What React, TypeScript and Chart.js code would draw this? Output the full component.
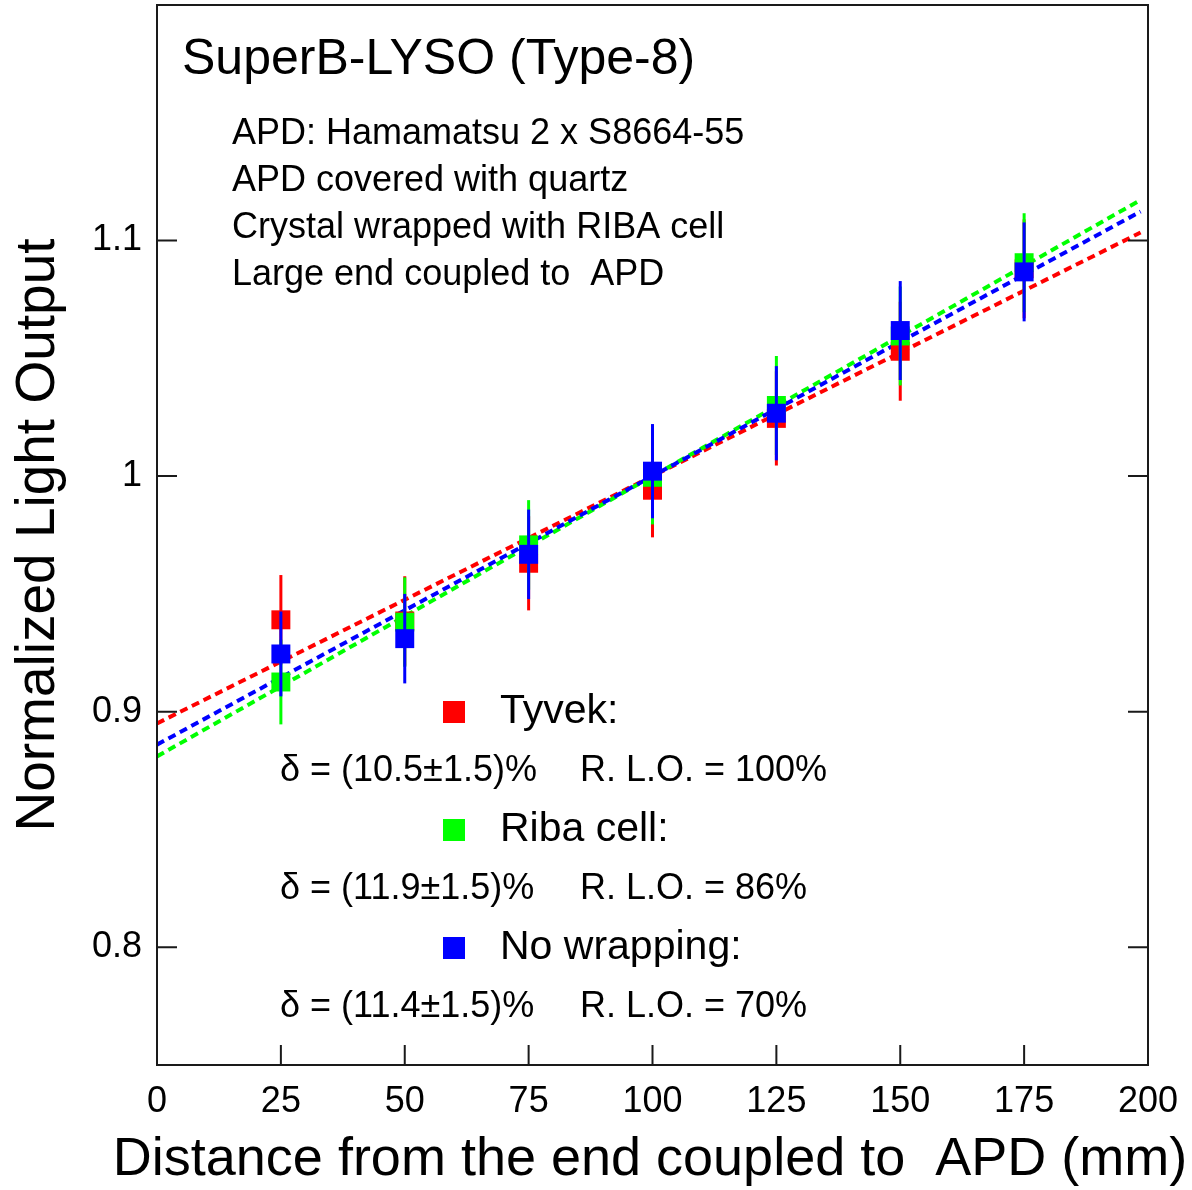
import React, { useEffect, useRef } from "react";
import { Chart, registerables } from "chart.js";

Chart.register(...registerables);

// ---- Data ----
const distances = [25, 50, 75, 100, 125, 150, 175];

const tyvekValues = [0.939, 0.9385, 0.963, 0.994, 1.0245, 1.053, 1.088];
const tyvekErrors = [0.019, 0.019, 0.020, 0.020, 0.020, 0.021, 0.021];

const ribaValues = [0.9126, 0.938, 0.9708, 0.9995, 1.030, 1.0595, 1.0906];
const ribaErrors = [0.018, 0.019, 0.019, 0.020, 0.021, 0.021, 0.021];

const noWrapValues = [0.9245, 0.931, 0.9668, 1.0021, 1.0267, 1.0618, 1.0867];
const noWrapErrors = [0.018, 0.019, 0.019, 0.020, 0.020, 0.021, 0.021];

// fitted lines (end points)
const fitX = [0, 198.5];
const tyvekFit = [0.895, 1.1034];
const ribaFit = [0.881, 1.1172];
const noWrapFit = [0.886, 1.1123];

const yTickValues = [0.8, 0.9, 1, 1.1];
const xTickValues = [0, 25, 50, 75, 100, 125, 150, 175, 200];

const seriesColors = ["#ff0000", "#00ff00", "#0000ff"];
const legendLabels = ["Tyvek:", "Riba cell:", "No wrapping:"];
const deltaTexts = ["δ = (10.5±1.5)%", "δ = (11.9±1.5)%", "δ = (11.4±1.5)%"];
const rloTexts = ["R. L.O. = 100%", "R. L.O. = 86%", "R. L.O. = 70%"];

const titleText = "SuperB-LYSO (Type-8)";
const noteLines = [
  "APD: Hamamatsu 2 x S8664-55",
  "APD covered with quartz",
  "Crystal wrapped with RIBA cell",
  "Large end coupled to  APD",
];
const xTitle = "Distance from the end coupled to  APD (mm)";
const yTitle = "Normalized Light Output";

const FONT = '"Liberation Sans", Arial, Helvetica, sans-serif';

function pts(xs: number[], ys: number[]) {
  return xs.map((x, i) => ({ x, y: ys[i] }));
}

const zeroPadding = () => ({ left: 0, top: 0, right: 0, bottom: 0 });

const overlayPlugin = {
  id: "overlay",
  afterDatasetDraw(chart: any, args: any) {
    const ds = chart.data.datasets[args.index];
    if (!ds.errors) return;
    const ctx = chart.ctx;
    const xs = chart.scales.x;
    const ys = chart.scales.y;
    ctx.save();
    ctx.strokeStyle = ds.backgroundColor;
    ctx.lineWidth = 3;
    ds.data.forEach((p: any, i: number) => {
      const px = xs.getPixelForValue(p.x);
      const y1 = ys.getPixelForValue(p.y - ds.errors[i]);
      const y2 = ys.getPixelForValue(p.y + ds.errors[i]);
      ctx.beginPath();
      ctx.moveTo(px, y1);
      ctx.lineTo(px, y2);
      ctx.stroke();
    });
    ctx.restore();
  },
  afterDraw(chart: any) {
    const ctx = chart.ctx;
    const { left, right, top, bottom } = chart.chartArea;
    const xs = chart.scales.x;
    const ys = chart.scales.y;
    ctx.save();
    // frame
    ctx.strokeStyle = "#1a1a1a";
    ctx.lineWidth = 2;
    ctx.strokeRect(left, top, right - left, bottom - top);
    // inward ticks
    const tl = 20;
    ctx.beginPath();
    xTickValues.forEach((v) => {
      const px = xs.getPixelForValue(v);
      ctx.moveTo(px, bottom);
      ctx.lineTo(px, bottom - tl);
    });
    yTickValues.forEach((v) => {
      const py = ys.getPixelForValue(v);
      ctx.moveTo(left, py);
      ctx.lineTo(left + tl, py);
      ctx.moveTo(right, py);
      ctx.lineTo(right - tl, py);
    });
    ctx.stroke();

    // texts
    ctx.fillStyle = "#000";
    ctx.textBaseline = "middle";
    ctx.textAlign = "left";
    ctx.font = `50px ${FONT}`;
    ctx.fillText(titleText, 182, 60);
    ctx.font = `36px ${FONT}`;
    noteLines.forEach((t, i) => ctx.fillText(t, 232, 134 + i * 47));

    legendLabels.forEach((lab, i) => {
      const cy = 712 + i * 118;
      ctx.fillStyle = seriesColors[i];
      ctx.fillRect(443, cy - 11, 22, 22);
      ctx.fillStyle = "#000";
      ctx.font = `41px ${FONT}`;
      ctx.fillText(lab, 500, cy);
      ctx.font = `36px ${FONT}`;
      ctx.fillText(deltaTexts[i], 280, cy + 59);
      ctx.fillText(rloTexts[i], 580, cy + 59);
    });

    // x axis title (wider than the plot area, so drawn here)
    ctx.textAlign = "center";
    ctx.font = `54px ${FONT}`;
    ctx.fillText(xTitle, 650, 1160);
    ctx.restore();
  },
};

export default function App() {
  const canvasRef = useRef<HTMLCanvasElement | null>(null);

  useEffect(() => {
    if (!canvasRef.current) return;
    const scatterDs = (label: string, values: number[], errors: number[], color: string, order: number) => ({
      type: "scatter" as const,
      label,
      data: pts(distances, values),
      errors,
      backgroundColor: color,
      borderColor: color,
      borderWidth: 0,
      pointStyle: "rect",
      pointRadius: 13.4,
      pointHoverRadius: 13.4,
      order,
    });
    const fitDs = (label: string, values: number[], color: string, order: number) => ({
      type: "line" as const,
      label,
      data: pts(fitX, values),
      borderColor: color,
      backgroundColor: color,
      borderWidth: 4,
      borderDash: [8, 5],
      pointRadius: 0,
      fill: false,
      tension: 0,
      order,
    });

    const chart = new Chart(canvasRef.current, {
      type: "scatter",
      data: {
        datasets: [
          scatterDs("Tyvek", tyvekValues, tyvekErrors, seriesColors[0], 3),
          scatterDs("Riba cell", ribaValues, ribaErrors, seriesColors[1], 2),
          scatterDs("No wrapping", noWrapValues, noWrapErrors, seriesColors[2], 1),
          fitDs("Tyvek fit", tyvekFit, seriesColors[0], 12),
          fitDs("Riba fit", ribaFit, seriesColors[1], 11),
          fitDs("No wrapping fit", noWrapFit, seriesColors[2], 10),
        ] as any,
      },
      options: {
        responsive: false,
        animation: false,
        layout: { autoPadding: false, padding: { left: 0, top: 5, right: 44, bottom: 0 } },
        plugins: {
          legend: { display: false },
          tooltip: { enabled: false },
        },
        scales: {
          x: {
            type: "linear",
            min: 0,
            max: 200,
            afterBuildTicks: (scale: any) => {
              scale.ticks = xTickValues.map((v) => ({ value: v }));
            },
            afterFit: (scale: any) => {
              scale.height = 125;
              scale.paddingLeft = 0;
              scale.paddingRight = 0;
              scale.getPadding = zeroPadding;
            },
            grid: { display: false, drawTicks: false },
            border: { display: false },
            ticks: {
              color: "#000",
              font: { family: FONT, size: 36, lineHeight: 1.2 },
              padding: 15,
              maxRotation: 0,
              autoSkip: false,
            },
            title: { display: false },
          },
          y: {
            type: "linear",
            min: 0.75,
            max: 1.2,
            afterBuildTicks: (scale: any) => {
              scale.ticks = yTickValues.map((v) => ({ value: v }));
            },
            afterFit: (scale: any) => {
              scale.width = 157;
              scale.paddingTop = 0;
              scale.paddingBottom = 0;
              scale.getPadding = zeroPadding;
            },
            grid: { display: false, drawTicks: false },
            border: { display: false },
            ticks: {
              color: "#000",
              font: { family: FONT, size: 36 },
              padding: 15,
              autoSkip: false,
              callback: (v: any) => (Number(v) === 1 ? "1" : Number(v).toFixed(1)),
            },
            title: {
              display: true,
              text: yTitle,
              color: "#000",
              font: { family: FONT, size: 55, lineHeight: 1 },
              padding: { top: 11, bottom: 0 },
            },
          },
        },
      } as any,
      plugins: [overlayPlugin],
    });
    return () => chart.destroy();
  }, []);

  return (
    <div style={{ position: "fixed", left: 0, top: 0, width: 1192, height: 1190, background: "#fff" }}>
      <canvas ref={canvasRef} width={1192} height={1190} style={{ display: "block" }} />
    </div>
  );
}
